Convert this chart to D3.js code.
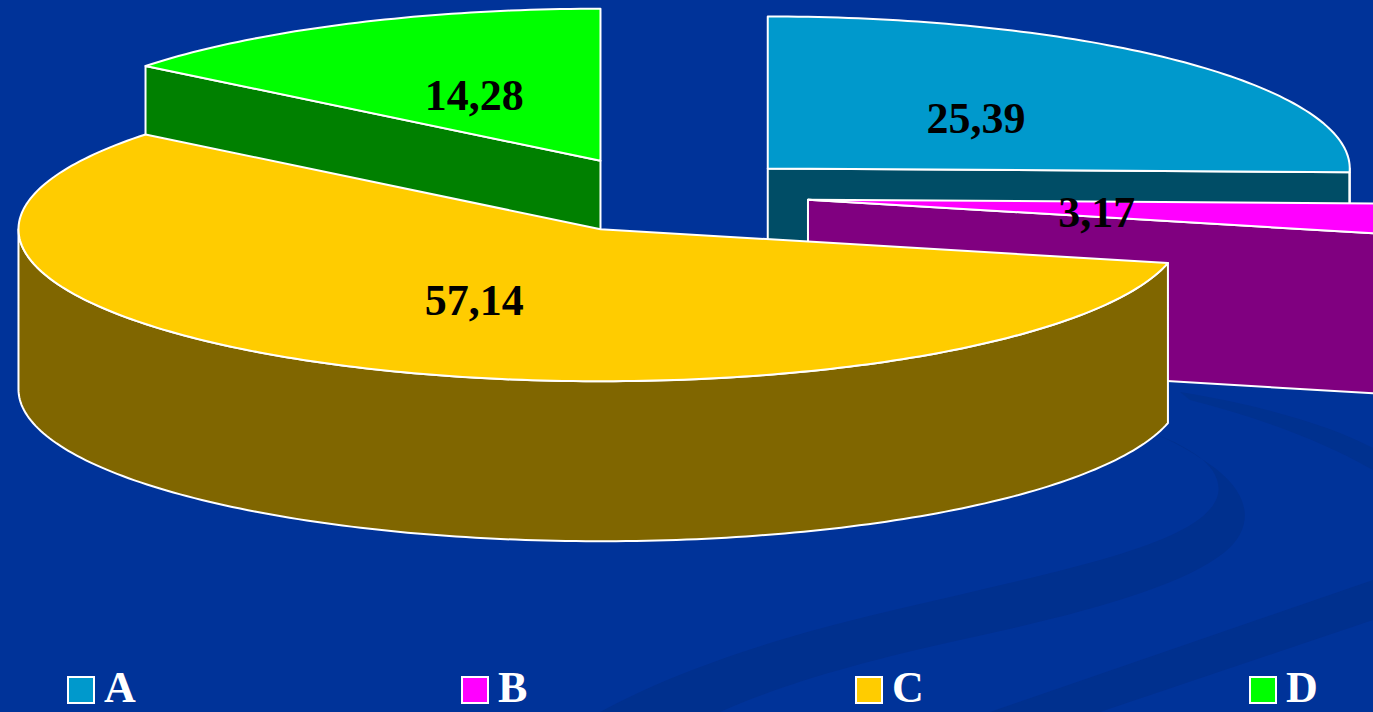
<!DOCTYPE html>
<html>
<head>
<meta charset="utf-8">
<script src="https://cdn.jsdelivr.net/npm/d3@7"></script>
<style>
  html, body { margin: 0; padding: 0; background: #003399; overflow: hidden; }
  svg { display: block; }
</style>
</head>
<body>
<svg id="chart" width="1373" height="712"></svg>
<script>
// ---------- data ----------
const categories = ["A", "B", "C", "D"];
const values = [25.39, 3.17, 57.14, 14.28];
const valueLabels = ["25,39", "3,17", "57,14", "14,28"];
const topColors = ["#0099CC", "#FF00FF", "#FFCC00", "#00FF00"];
const sideColors = ["#004D66", "#800080", "#806600", "#008000"];

// ---------- geometry ----------
const W = 1373, H = 712;
const cx = 663.6, cy = 195;   // unexploded pie centre (top face)
const rx = 582, ry = 152;     // ellipse radii of top face
const depth = 160;            // extrusion
const explode = 0.25;         // explode fraction of radius

const svg = d3.select("#chart");

// background swooshes (template decoration)
const bg = svg.append("g");
bg.append("rect").attr("width", W).attr("height", H).attr("fill", "#003399");
bg.append("path")
  .attr("d", "M1150,432 C1205,452 1222,474 1218,494 C1212,520 1170,540 1100,560 C1000,588 880,610 780,640 C700,664 640,690 600,712 L720,712 C780,685 860,662 960,640 C1080,614 1180,588 1225,552 C1258,524 1250,488 1200,458 C1185,448 1170,440 1150,432 Z")
  .attr("fill", "#00308e");
bg.append("path")
  .attr("d", "M1373,580 L1373,620 L1100,712 L990,712 Z")
  .attr("fill", "#00308e");
bg.append("path")
  .attr("d", "M1180,392 C1260,405 1330,425 1373,448 L1373,470 C1320,440 1260,418 1190,400 Z")
  .attr("fill", "#00318f");

// ---------- pie layout ----------
const pie = d3.pie().sort(null).startAngle(0).endAngle(2 * Math.PI);
const arcs = pie(values).map((d, i) => {
  const mid = (d.startAngle + d.endAngle) / 2;
  return Object.assign(d, {
    i,
    mid,
    ox: explode * rx * Math.sin(mid),
    oy: -explode * ry * Math.cos(mid)
  });
});

// projection scales (angle-space -> screen offset)
const sx = d3.scaleLinear().domain([-1, 1]).range([-rx, rx]);
const sy = d3.scaleLinear().domain([-1, 1]).range([ry, -ry]);

function pt(d, a, r, z) {
  return [cx + d.ox + r * sx(Math.sin(a)), cy + d.oy + r * sy(Math.cos(a)) + (z || 0)];
}
function rimPoints(d, a0, a1, z) {
  const n = Math.max(2, Math.ceil(Math.abs(a1 - a0) / (Math.PI / 180)));
  return d3.range(n + 1).map(k => pt(d, a0 + (a1 - a0) * k / n, 1, z));
}
const line = d3.line();

const order = arcs.slice().sort((a, b) => a.oy - b.oy); // back to front
const gPie = svg.append("g");

order.forEach(d => {
  const g = gPie.append("g");
  const apex = pt(d, 0, 0, 0);
  const apexB = pt(d, 0, 0, depth);
  // radial walls
  const walls = [];
  if (Math.sin(d.startAngle) < -1e-6) walls.push(d.startAngle);
  if (Math.sin(d.endAngle) > 1e-6) walls.push(d.endAngle);
  walls.forEach(a => {
    const r1 = pt(d, a, 1, 0), r2 = pt(d, a, 1, depth);
    g.append("path")
      .attr("d", line([apex, r1, r2, apexB]) + "Z")
      .attr("fill", sideColors[d.i])
      .attr("stroke", "#fff").attr("stroke-width", 2).attr("stroke-linejoin", "round");
  });
  // outer wall (front half: angles between 90° and 270°)
  const w0 = Math.max(d.startAngle, Math.PI / 2), w1 = Math.min(d.endAngle, 3 * Math.PI / 2);
  if (w1 > w0) {
    const topRim = rimPoints(d, w0, w1, 0);
    const botRim = rimPoints(d, w1, w0, depth);
    g.append("path")
      .attr("d", line(topRim.concat(botRim)) + "Z")
      .attr("fill", sideColors[d.i])
      .attr("stroke", "#fff").attr("stroke-width", 2).attr("stroke-linejoin", "round");
  }
  // top face
  const top = [apex].concat(rimPoints(d, d.startAngle, d.endAngle, 0));
  g.append("path")
    .attr("d", line(top) + "Z")
    .attr("fill", topColors[d.i])
    .attr("stroke", "#fff").attr("stroke-width", 2).attr("stroke-linejoin", "round");
});

// value labels
order.forEach(d => {
  const p = pt(d, d.mid, 0.5, 0);
  gPie.append("text")
    .attr("x", p[0]).attr("y", p[1] + 3)
    .attr("text-anchor", "middle")
    .attr("dominant-baseline", "central")
    .attr("font-family", "'Liberation Serif', 'Times New Roman', serif")
    .attr("font-weight", "bold")
    .attr("font-size", 44)
    .attr("fill", "#000")
    .text(valueLabels[d.i]);
});

// ---------- legend ----------
const legendX = d3.scalePoint().domain(categories).range([68, 1250]);
const legend = svg.append("g");
categories.forEach((c, i) => {
  const x = legendX(c);
  legend.append("rect")
    .attr("x", x).attr("y", 677).attr("width", 26).attr("height", 26)
    .attr("fill", topColors[i]).attr("stroke", "#fff").attr("stroke-width", 2);
  legend.append("text")
    .attr("x", x + 36).attr("y", 702)
    .attr("font-family", "'Liberation Serif', 'Times New Roman', serif")
    .attr("font-weight", "bold")
    .attr("font-size", 44)
    .attr("fill", "#fff")
    .text(c);
});
</script>
</body>
</html>
